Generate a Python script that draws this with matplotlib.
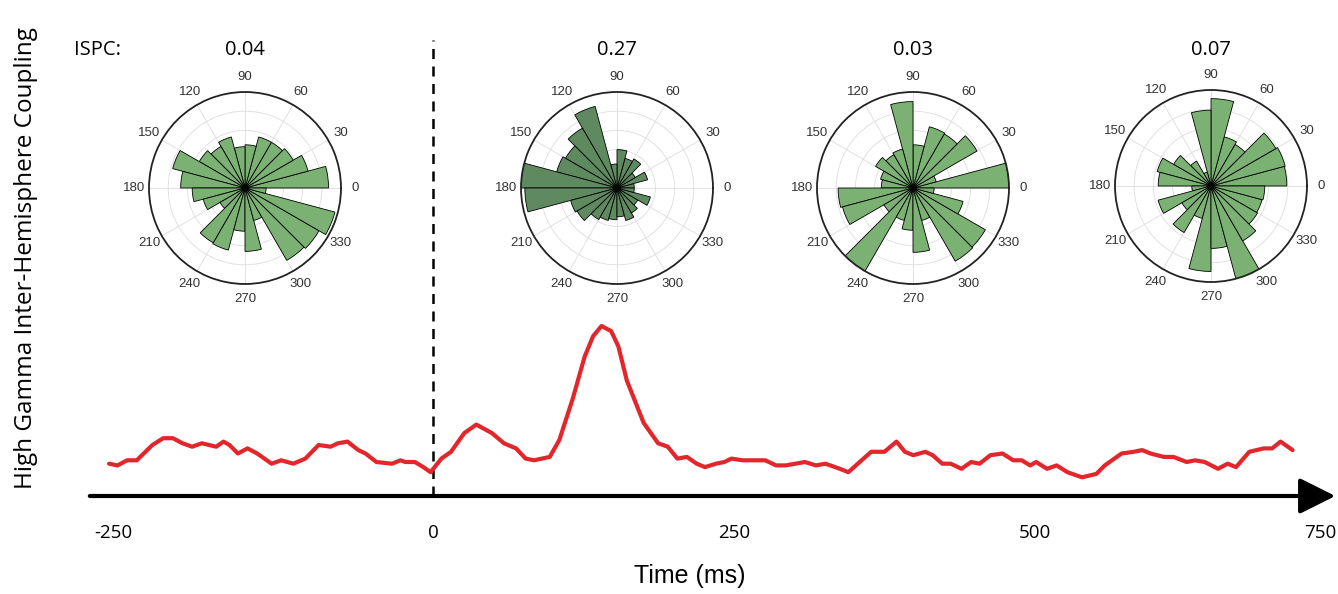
import numpy as np
import matplotlib
matplotlib.use('Agg')
import matplotlib.pyplot as plt

# Coupling trace (time in ms, coupling in arbitrary units, peak = 1)
time_ms = [-269, -262, -254, -246, -233, -224, -216, -208, -200, -192, -180, -174, -169,
           -162, -154, -146, -134, -126, -116, -106, -95, -85, -79, -71, -62, -56, -47,
           -34, -27, -23, -15, -8, -2, 7, 15, 26, 36, 49, 59, 69, 77, 84, 97, 105, 116,
           126, 133, 140, 148, 154, 161, 175, 187, 195, 203, 211, 219, 226, 235, 242,
           248, 257, 267, 276, 285, 293, 309, 318, 326, 338, 345, 356, 364, 375, 385,
           392, 399, 409, 415, 423, 430, 439, 447, 454, 463, 473, 482, 489, 496, 501,
           510, 518, 527, 539, 551, 558, 572, 582, 589, 596, 607, 615, 626, 633, 641,
           652, 660, 667, 678, 690, 697, 704, 714]
coupling = [0.19, 0.18, 0.21, 0.21, 0.30, 0.34, 0.34, 0.31, 0.29, 0.31, 0.29, 0.32, 0.30,
            0.25, 0.28, 0.25, 0.19, 0.21, 0.19, 0.22, 0.30, 0.29, 0.31, 0.32, 0.27, 0.25, 0.20,
            0.19, 0.21, 0.20, 0.20, 0.17, 0.14, 0.22, 0.26, 0.37, 0.42, 0.37, 0.31, 0.28, 0.22,
            0.21, 0.23, 0.33, 0.57, 0.82, 0.94, 1.00, 0.97, 0.88, 0.68, 0.43, 0.31, 0.29, 0.22,
            0.23, 0.19, 0.17, 0.19, 0.20, 0.22, 0.21, 0.21, 0.21, 0.18, 0.18, 0.20, 0.18, 0.19,
            0.16, 0.14, 0.21, 0.26, 0.26, 0.32, 0.26, 0.24, 0.26, 0.24, 0.19, 0.19, 0.16, 0.20,
            0.19, 0.24, 0.25, 0.21, 0.21, 0.18, 0.20, 0.16, 0.18, 0.14, 0.11, 0.13, 0.18, 0.25,
            0.26, 0.27, 0.25, 0.23, 0.23, 0.20, 0.21, 0.20, 0.16, 0.19, 0.17, 0.26, 0.28, 0.28,
            0.32, 0.27]

xtick_vals = [-250, 0, 250, 500, 750]

# Phase histograms: 24 bins of 15 deg, counts relative to max radius
bin_edges_deg = list(range(0, 360, 15))
ispc_labels = ['0.04', '0.27', '0.03', '0.07']
rose_1 = [0.87, 0.68, 0.58, 0.55, 0.55, 0.45, 0.43, 0.55, 0.50, 0.55, 0.78, 0.67,
          0.55, 0.45, 0.30, 0.66, 0.67, 0.45, 0.66, 0.35, 0.87, 0.89, 0.97, 0.22]
rose_2 = [0.18, 0.33, 0.22, 0.35, 0.32, 0.40, 0.25, 0.88, 0.72, 0.62, 0.65, 1.00,
          0.96, 0.50, 0.48, 0.38, 0.35, 0.33, 0.30, 0.35, 0.30, 0.25, 0.36, 0.18]
rose_3 = [1.00, 0.25, 0.77, 0.65, 0.66, 0.45, 0.90, 0.42, 0.40, 0.45, 0.35, 0.33,
          0.78, 0.76, 0.35, 1.00, 0.35, 0.44, 0.67, 0.35, 0.88, 0.87, 0.54, 0.22]
rose_4 = [0.79, 0.80, 0.78, 0.50, 0.53, 0.91, 0.79, 0.15, 0.30, 0.45, 0.58, 0.55,
          0.20, 0.57, 0.35, 0.56, 0.35, 0.89, 0.65, 1.00, 0.66, 0.56, 0.55, 0.56]
roses = [rose_1, rose_2, rose_3, rose_4]
rose_colors = ['#7bb274', '#5f8a60', '#7bb274', '#7bb274']

W, H = 1338, 594
fig = plt.figure(figsize=(W / 100, H / 100), dpi=100)

# Main trace axes (bottom edge sits on the time arrow)
ax = fig.add_axes([0, 98 / H, 1, 496 / H])
ax.set_xlim(-359.6, 751.7)
ax.set_ylim(0, 496 / 170)
for s in ax.spines.values():
    s.set_visible(False)
ax.set_yticks([])

ax.plot(time_ms, coupling, color='#e3262b', lw=3, solid_joinstyle='round',
        solid_capstyle='round', zorder=3)
ax.plot([0, 0], [0, 456 / 170], color='black', lw=1.8, dashes=(4, 3), zorder=2)
ax.annotate('', xy=(749.5, 0), xytext=(-285, 0), annotation_clip=False,
            arrowprops=dict(arrowstyle='-|>,head_length=1.1,head_width=0.55',
                            lw=3, color='black', shrinkA=0, shrinkB=0,
                            mutation_scale=20))

ax.set_xticks(xtick_vals)
ax.set_xticklabels([str(v) for v in xtick_vals], fontsize=13.5, family='Open Sans')
ax.tick_params(axis='x', length=0, pad=20)
tl = ax.get_xticklabels()
tl[0].set_ha('right')
tl[-1].set_ha('right')

fig.text(690 / W, 1 - 576 / H, 'Time (ms)', fontsize=18, family='Liberation Sans',
         ha='center', va='center')
fig.text(26 / W, 1 - 258 / H, 'High Gamma Inter-Hemisphere Coupling', fontsize=17.5,
         family='Open Sans', rotation=90, ha='center', va='center')

# Polar histograms
centers = [(245, 188), (617, 188), (913, 188), (1211, 186)]
rad = 96
fig.text(97 / W, 1 - 50 / H, 'ISPC:', fontsize=14.5, family='Open Sans', ha='center', va='center')
width = np.deg2rad(15)
for (cx, cy), vals, lbl, clr in zip(centers, roses, ispc_labels, rose_colors):
    fig.text(cx / W, 1 - 50 / H, lbl, fontsize=14.5, family='Open Sans', ha='center', va='center')
    pax = fig.add_axes([(cx - rad) / W, (H - cy - rad) / H, 2 * rad / W, 2 * rad / H],
                       projection='polar')
    pax.bar(np.deg2rad(bin_edges_deg), vals, width=width, align='edge', color=clr,
            edgecolor='black', lw=0.6, zorder=2)
    pax.set_ylim(0, 1)
    pax.set_rticks([0.2, 0.4, 0.6, 0.8])
    pax.set_yticklabels([])
    pax.set_thetagrids(range(0, 360, 30), [str(a) for a in range(0, 360, 30)],
                       fontsize=9.5, family='Liberation Sans', color='#333333')
    pax.tick_params(axis='x', pad=0)
    pax.grid(color='#dddddd', lw=0.6)
    pax.spines['polar'].set_color('#222222')
    pax.spines['polar'].set_linewidth(1.3)
    pax.set_axisbelow(True)

fig.savefig('out.png', dpi=100)
